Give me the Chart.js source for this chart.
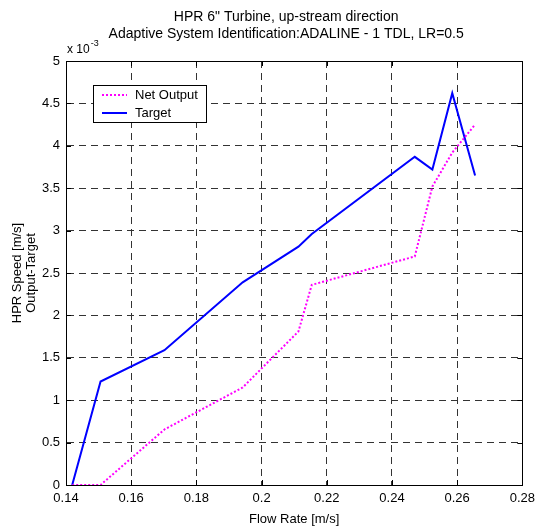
<!DOCTYPE html>
<html>
<head>
<meta charset="utf-8">
<script src="https://cdn.jsdelivr.net/npm/chart.js@4/dist/chart.umd.min.js"></script>
<style>
  html, body { margin: 0; padding: 0; background: #ffffff; }
  #wrap { position: relative; width: 541px; height: 531px; }
  canvas { display: block; }
</style>
</head>
<body>
<div id="wrap"><canvas id="c" width="541" height="531"></canvas></div>
<script>
// ---- data ----
const titleLines = ['HPR 6" Turbine, up-stream direction', 'Adaptive System Identification:ADALINE - 1 TDL, LR=0.5'];
const xTitle = 'Flow Rate [m/s]';
const yTitle = ['HPR Speed [m/s]', 'Output-Target'];
const yExponent = '-3';
// flow rate samples [m/s]
const flowRate = [0.1419, 0.1506, 0.1702, 0.1942, 0.2113, 0.2154, 0.2470, 0.2524, 0.2585, 0.2655];
// speeds in units of 10^-3 m/s
const netOutput = [0.0, 0.0, 0.655, 1.15, 1.81, 2.36, 2.695, 3.52, 3.92, 4.25];
const target    = [0.0, 1.22, 1.59, 2.39, 2.81, 2.96, 3.87, 3.72, 4.62, 3.65];
const seriesNames = ['Net Output', 'Target'];
const xTicks = [0.14, 0.16, 0.18, 0.20, 0.22, 0.24, 0.26, 0.28];
const yTicks = [0, 0.5, 1, 1.5, 2, 2.5, 3, 3.5, 4, 4.5, 5];

const FONT = "'Liberation Sans', Arial, Helvetica, sans-serif";

const overlay = {
  id: 'overlay',
  afterDraw(chart) {
    const ctx = chart.ctx;
    const a = chart.chartArea;
    const xs = chart.scales.x, ys = chart.scales.y;
    ctx.save();
    // box
    ctx.strokeStyle = '#000';
    ctx.lineWidth = 1;
    ctx.setLineDash([]);
    ctx.strokeRect(Math.round(a.left) + 0.5, Math.round(a.top) + 0.5,
                   Math.round(a.right) - Math.round(a.left), Math.round(a.bottom) - Math.round(a.top));
    // inward ticks on all sides
    const tl = 5;
    ctx.beginPath();
    xs.ticks.forEach(t => {
      const px = Math.round(xs.getPixelForValue(t.value)) + 0.5;
      ctx.moveTo(px, a.bottom); ctx.lineTo(px, a.bottom - tl);
      ctx.moveTo(px, a.top); ctx.lineTo(px, a.top + tl);
    });
    ys.ticks.forEach(t => {
      const py = Math.round(ys.getPixelForValue(t.value)) + 0.5;
      ctx.moveTo(a.left, py); ctx.lineTo(a.left + tl, py);
      ctx.moveTo(a.right, py); ctx.lineTo(a.right - tl, py);
    });
    ctx.stroke();
    // titles
    ctx.fillStyle = '#000';
    ctx.textAlign = 'center';
    ctx.textBaseline = 'alphabetic';
    ctx.font = '14px ' + FONT;
    const cx = (a.left + a.right) / 2 - 8;
    ctx.fillText(titleLines[0], cx, 21);
    ctx.fillText(titleLines[1], cx, 38);
    // exponent label
    ctx.textAlign = 'left';
    ctx.font = '12px ' + FONT;
    const base = 'x 10';
    ctx.fillText(base, a.left + 1, 53);
    const w = ctx.measureText(base).width;
    ctx.font = '9px ' + FONT;
    ctx.fillText(yExponent, a.left + 1 + w + 1, 46);
    // legend
    const lx = 93.5, ly = 85.5, lw = 113, lh = 37;
    ctx.fillStyle = '#fff';
    ctx.fillRect(lx, ly, lw, lh);
    ctx.strokeStyle = '#000';
    ctx.lineWidth = 1;
    ctx.strokeRect(lx, ly, lw, lh);
    ctx.font = '13px ' + FONT;
    ctx.textBaseline = 'middle';
    chart.data.datasets.forEach((ds, i) => {
      const yy = 95 + i * 18;
      ctx.strokeStyle = ds.borderColor;
      ctx.lineWidth = ds.borderWidth;
      ctx.setLineDash(ds.borderDash || []);
      ctx.beginPath();
      ctx.moveTo(102, yy); ctx.lineTo(127, yy);
      ctx.stroke();
      ctx.setLineDash([]);
      ctx.fillStyle = '#000';
      ctx.fillText(ds.label, 135, yy);
    });
    ctx.restore();
  }
};

new Chart(document.getElementById('c'), {
  type: 'scatter',
  data: {
    datasets: [
      {
        label: seriesNames[0],
        data: flowRate.map((x, i) => ({ x: x, y: netOutput[i] })),
        showLine: true,
        borderColor: '#ff00ff',
        borderWidth: 2,
        borderDash: [2, 2],
        pointRadius: 0,
        fill: false,
        tension: 0,
        clip: 4
      },
      {
        label: seriesNames[1],
        data: flowRate.map((x, i) => ({ x: x, y: target[i] })),
        showLine: true,
        borderColor: '#0000ff',
        borderWidth: 2,
        pointRadius: 0,
        fill: false,
        tension: 0,
        clip: 4
      }
    ]
  },
  options: {
    responsive: false,
    animation: false,
    events: [],
    layout: { padding: { top: 61, right: 17, left: 0, bottom: 0 } },
    plugins: { legend: { display: false }, title: { display: false }, tooltip: { enabled: false } },
    scales: {
      x: {
        type: 'linear',
        min: xTicks[0], max: xTicks[xTicks.length - 1],
        afterFit: s => { s.height = 46; },
        afterBuildTicks: s => { s.ticks = xTicks.map(v => ({ value: v })); },
        ticks: {
          padding: 6,
          color: '#000',
          font: { family: FONT, size: 13 },
          maxRotation: 0,
          autoSkip: false,
          callback: v => String(+Number(v).toFixed(2))
        },
        grid: { color: '#333', lineWidth: 1, drawTicks: false },
        border: { display: true, color: '#000', dash: [7, 5] },
        title: {
          display: true, text: xTitle, color: '#000',
          font: { family: FONT, size: 13, lineHeight: 1.1 },
          padding: { top: 0, bottom: 4 }
        }
      },
      y: {
        type: 'linear',
        min: yTicks[0], max: yTicks[yTicks.length - 1],
        afterFit: s => { s.width = 66; },
        afterBuildTicks: s => { s.ticks = yTicks.map(v => ({ value: v })); },
        ticks: {
          padding: 6,
          color: '#000',
          font: { family: FONT, size: 13 },
          autoSkip: false,
          callback: v => String(+Number(v).toFixed(2))
        },
        grid: { color: '#333', lineWidth: 1, drawTicks: false },
        border: { display: true, color: '#000', dash: [7, 5] },
        title: {
          display: true, text: yTitle, color: '#000',
          font: { family: FONT, size: 13, lineHeight: 1.1 },
          padding: { top: 10, bottom: 0 }
        }
      }
    }
  },
  plugins: [overlay]
});
</script>
</body>
</html>
